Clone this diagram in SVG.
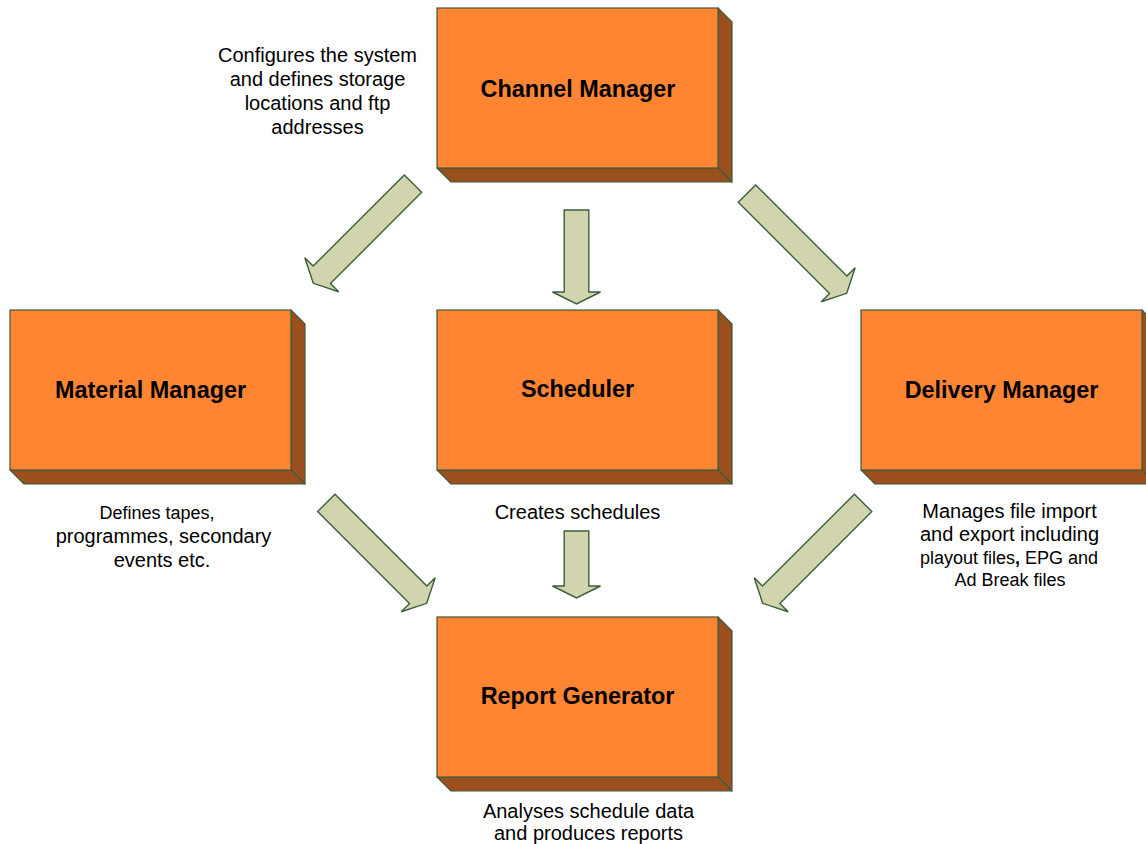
<svg xmlns="http://www.w3.org/2000/svg" xmlns:xlink="http://www.w3.org/1999/xlink" width="1146" height="844" viewBox="0 0 1146 844">
<style>
.front{fill:#FF8532;stroke:#3E5B3A;stroke-width:1.2}
.side{fill:#9B4F1D;stroke:#3E5B3A;stroke-width:1.2;stroke-linejoin:round}
.label{font-family:"Liberation Sans",Arial,sans-serif;font-weight:bold;font-size:23.4px;fill:#000;text-anchor:middle}
.desc{font-family:"Liberation Sans",Arial,sans-serif;font-size:20px;fill:#000;text-anchor:middle}
.small{font-size:18px}
.arrow{fill:#D2D4AD;stroke:#3B5E3A;stroke-width:1.4;stroke-linejoin:miter}
</style>
<defs>
<g id="box">
<polygon class="side" points="281,0 295,14 295,174 281,160"/>
<polygon class="side" points="0,160 281,160 295,174 14,174"/>
<rect class="front" x="0" y="0" width="281" height="160"/>
</g>
</defs>
<rect width="1146" height="844" fill="#FFFFFF"/>
<g id="connectors">
<polygon class="arrow" transform="translate(313.3,283.3) rotate(45)" points="-12.3,-141 12.3,-141 12.3,-12 24,-12 0,0 -24,-12 -12.3,-12"/>
<polygon class="arrow" transform="translate(576.5,304)" points="-12.3,-94 12.3,-94 12.3,-12 24,-12 0,0 -24,-12 -12.3,-12"/>
<polygon class="arrow" transform="translate(846.7,293.3) rotate(-45)" points="-12.3,-141 12.3,-141 12.3,-12 24,-12 0,0 -24,-12 -12.3,-12"/>
<polygon class="arrow" transform="translate(426.7,603.3) rotate(-45)" points="-12.3,-142 12.3,-142 12.3,-12 24,-12 0,0 -24,-12 -12.3,-12"/>
<polygon class="arrow" transform="translate(576.5,598)" points="-12.3,-67 12.3,-67 12.3,-12 24,-12 0,0 -24,-12 -12.3,-12"/>
<polygon class="arrow" transform="translate(762.7,603.3) rotate(45)" points="-12.3,-142 12.3,-142 12.3,-12 24,-12 0,0 -24,-12 -12.3,-12"/>
</g>
<g id="channel-manager">
<use xlink:href="#box" x="437" y="8"/>
<text class="label" x="578" y="96.5">Channel Manager</text>
<text class="desc" x="317.5" y="62">Configures the system</text>
<text class="desc" x="317.5" y="86">and defines storage</text>
<text class="desc" x="317.5" y="110">locations and ftp</text>
<text class="desc" x="317.5" y="134">addresses</text>
</g>
<g id="material-manager">
<use xlink:href="#box" x="10" y="310"/>
<text class="label" x="150.5" y="397.5">Material Manager</text>
<text class="desc small" x="157" y="519">Defines tapes,</text>
<text class="desc" x="163.5" y="543">programmes, secondary</text>
<text class="desc" x="162" y="567">events etc.</text>
</g>
<g id="scheduler">
<use xlink:href="#box" x="437" y="310"/>
<text class="label" x="577.5" y="397">Scheduler</text>
<text class="desc" x="577.5" y="519">Creates schedules</text>
</g>
<g id="delivery-manager">
<use xlink:href="#box" x="861" y="310"/>
<text class="label" x="1001.5" y="397.5">Delivery Manager</text>
<text class="desc" x="1009.5" y="518">Manages file import</text>
<text class="desc" x="1009.5" y="541">and export including</text>
<text class="desc small" x="1009" y="564">playout files<tspan font-weight="bold">,</tspan> EPG and</text>
<text class="desc small" x="1010" y="586">Ad Break files</text>
</g>
<g id="report-generator">
<use xlink:href="#box" x="437" y="617"/>
<text class="label" x="577.5" y="704">Report Generator</text>
<text class="desc" x="588.5" y="818">Analyses schedule data</text>
<text class="desc" x="588.5" y="840">and produces reports</text>
</g>
</svg>
